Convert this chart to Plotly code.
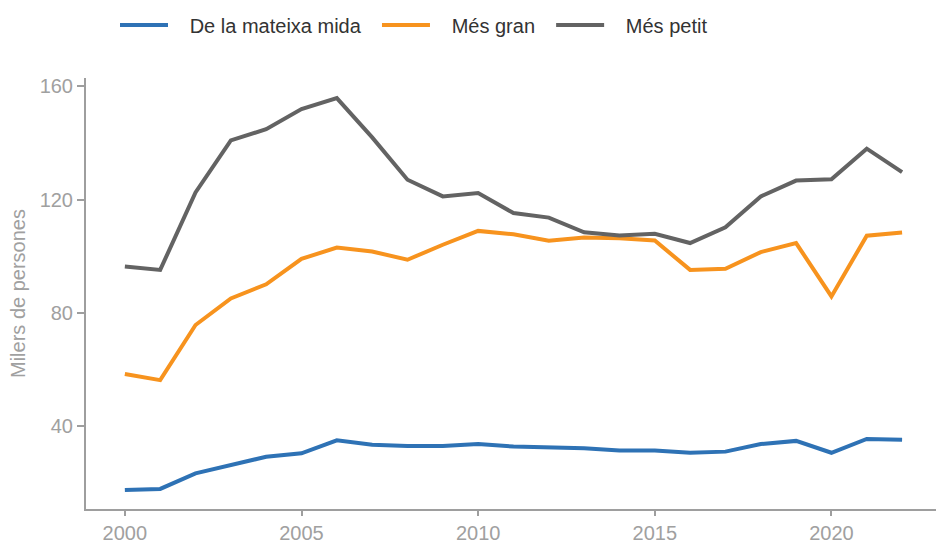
import plotly.graph_objects as go

years = list(range(2000, 2023))

mateixa_mida = [17.2, 17.6, 23.1, 25.9, 29.0, 30.2, 34.8, 33.2, 32.8, 32.8, 33.5, 32.6,
                32.4, 32.0, 31.2, 31.2, 30.4, 30.8, 33.5, 34.6, 30.4, 35.3, 35.0]
mes_gran = [58.3, 56.1, 75.6, 85.0, 90.0, 99.0, 103.0, 101.6, 98.7, 104.0, 108.9, 107.7,
            105.4, 106.6, 106.3, 105.5, 95.1, 95.5, 101.4, 104.6, 85.7, 107.2, 108.3]
mes_petit = [96.3, 95.1, 122.5, 140.9, 144.9, 152.0, 155.9, 142.0, 127.0, 121.1, 122.3, 115.2,
             113.6, 108.4, 107.3, 107.9, 104.6, 110.2, 121.1, 126.7, 127.2, 138.0, 129.7]

series_names = ["De la mateixa mida", "Més gran", "Més petit"]
series_values = [mateixa_mida, mes_gran, mes_petit]
colors = ["#2e72b5", "#f7931e", "#636363"]

y_ticks = [40, 80, 120, 160]
x_ticks = [2000, 2005, 2010, 2015, 2020]

lead = "\u00a0\u00a0\u00a0"   # gap between legend line and label
trail = "\u00a0\u00a0"        # gap between legend entries

fig = go.Figure()
for name, vals, col in zip(series_names, series_values, colors):
    fig.add_trace(go.Scatter(x=years, y=vals, mode="lines", name=lead + name + trail,
                             line=dict(color=col, width=4)))

axis_col = "#9e9e9e"
tick_font = dict(family="Liberation Sans, Arial, sans-serif", size=20, color="#a0a0a0")

fig.update_layout(
    width=936, height=542,
    paper_bgcolor="white", plot_bgcolor="white",
    margin=dict(l=86, r=0, t=78, b=33),
    font=dict(family="Liberation Sans, Arial, sans-serif", size=20, color="#333333"),
    showlegend=True,
    legend=dict(orientation="h", x=(115 - 86) / 850, xanchor="left", yref="container",
                y=1 - 25 / 542, yanchor="middle", font=dict(size=20, color="#333333"),
                bgcolor="rgba(0,0,0,0)", itemwidth=48, tracegroupgap=0),
    xaxis=dict(range=[1998.9, 2022.96], tickvals=x_ticks, ticktext=[str(t) for t in x_ticks],
               showgrid=False, zeroline=False, showline=True, linecolor=axis_col, linewidth=2,
               ticks="outside", ticklen=5, tickwidth=2, tickcolor=axis_col,
               tickfont=tick_font, automargin=False),
    yaxis=dict(range=[10.5, 163], tickvals=y_ticks, ticktext=[str(t) for t in y_ticks],
               showgrid=False, zeroline=False, showline=True, linecolor=axis_col, linewidth=2,
               ticks="outside", ticklen=7, tickwidth=2, tickcolor=axis_col,
               tickfont=tick_font, automargin=False,
               title=dict(text="Milers de persones", font=dict(size=20, color="#a0a0a0"),
                          standoff=9)),
)

fig.write_html("out.html", config={"displayModeBar": False},
               post_script="document.body.style.margin='0';")
